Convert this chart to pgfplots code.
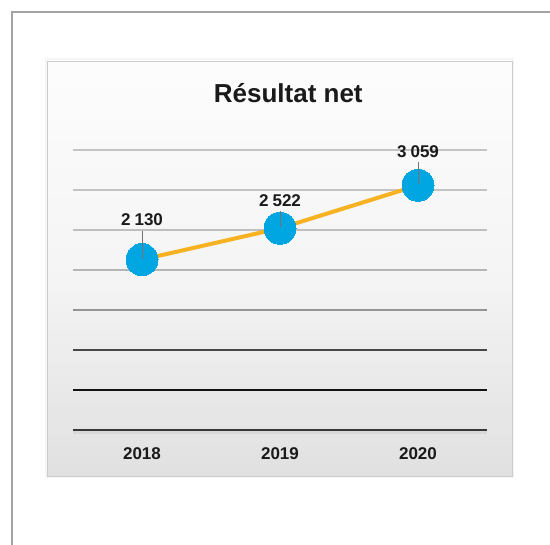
\documentclass[border=0pt]{standalone}
\usepackage{fontspec}
\setmainfont{Liberation Sans}
\usepackage{pgfplots}
\pgfplotsset{compat=1.18}

\definecolor{lineorange}{HTML}{F6B221}
\definecolor{markblue}{HTML}{00A6E2}
\definecolor{txt}{HTML}{1A1A1A}

% valeurs : annee, resultat, decalage de l'etiquette au-dessus du point (bp)
\pgfplotstableread{
x  y     dy
0  2130  34
1  2522  22
2  3059  28
}\resultat

\begin{document}
\begin{tikzpicture}
  \path[use as bounding box] (0,0) rectangle (550bp,545bp);
  % cadre exterieur
  \draw[color=black!36, line width=1.1bp] (12bp,0) -- (12bp,533bp) -- (550bp,533bp);
  % panneau
  \fill[black!4] (45bp,67bp) rectangle (514bp,487bp);
  \shade[top color=black!1, bottom color=black!12, middle color=black!4]
    (47bp,69bp) rectangle (512bp,484bp);
  \draw[color=black!20, line width=0.8bp] (47bp,69bp) rectangle (512bp,484bp);

  \begin{axis}[
      at={(73bp,115bp)}, anchor=south west,
      scale only axis, width=414bp, height=280bp,
      xmin=-0.5, xmax=2.5, ymin=0, ymax=3500,
      axis line style={draw=none}, tick style={draw=none},
      major tick length=0pt,
      ytick=\empty,
      xtick={0,1,2}, xticklabels={2018,2019,2020},
      xticklabel style={anchor=base, yshift=-30bp, text=txt,
        font=\bfseries\fontsize{17bp}{20bp}\selectfont},
      title={Résultat net},
      title style={at={(0.52,1)}, anchor=base, yshift=42bp, text=txt,
        font=\bfseries\fontsize{26bp}{30bp}\selectfont},
      clip=false,
      /pgf/number format/.cd, 1000 sep={\hspace{0.24em}}, assume math mode=true,
    ]
    % lignes de la grille, de plus en plus sombres vers le bas
    \draw[black!23, line width=1.4bp] (-0.5,3500) -- (2.5,3500);
    \draw[black!23, line width=1.4bp] (-0.5,3000) -- (2.5,3000);
    \draw[black!25, line width=1.4bp] (-0.5,2500) -- (2.5,2500);
    \draw[black!29, line width=1.4bp] (-0.5,2000) -- (2.5,2000);
    \draw[black!42, line width=1.4bp] (-0.5,1500) -- (2.5,1500);
    \draw[black!72, line width=1.5bp] (-0.5,1000) -- (2.5,1000);
    \draw[black!92, line width=1.6bp] (-0.5,500) -- (2.5,500);
    \draw[black!15, line width=3bp] (-0.5,-30) -- (2.5,-30);
    \draw[black!78, line width=2.6bp] (-0.5,0) -- (2.5,0);

    \addplot[color=lineorange, line width=4bp, mark=none] table[x=x, y=y] {\resultat};
    \addplot[color=markblue, only marks, mark=*, mark size=16bp,
      mark options={fill=markblue, draw=markblue, line width=0pt}]
      table[x=x, y=y] {\resultat};
    % etiquettes avec trait de rappel
    \addplot[draw=none, mark=none, point meta=y,
      visualization depends on={\thisrow{dy} \as \dy},
      nodes near coords,
      nodes near coords style={anchor=base, yshift=\dy*1bp, inner sep=0pt,
        text=txt, font=\bfseries\fontsize{17bp}{20bp}\selectfont,
        append after command={([yshift=-5bp]\tikzlastnode.base)
          edge[draw=black!55, line width=0.7bp]
          ([yshift=-\dy*1bp+1bp]\tikzlastnode.base)}}]
      table[x=x, y=y] {\resultat};
  \end{axis}
\end{tikzpicture}
\end{document}
